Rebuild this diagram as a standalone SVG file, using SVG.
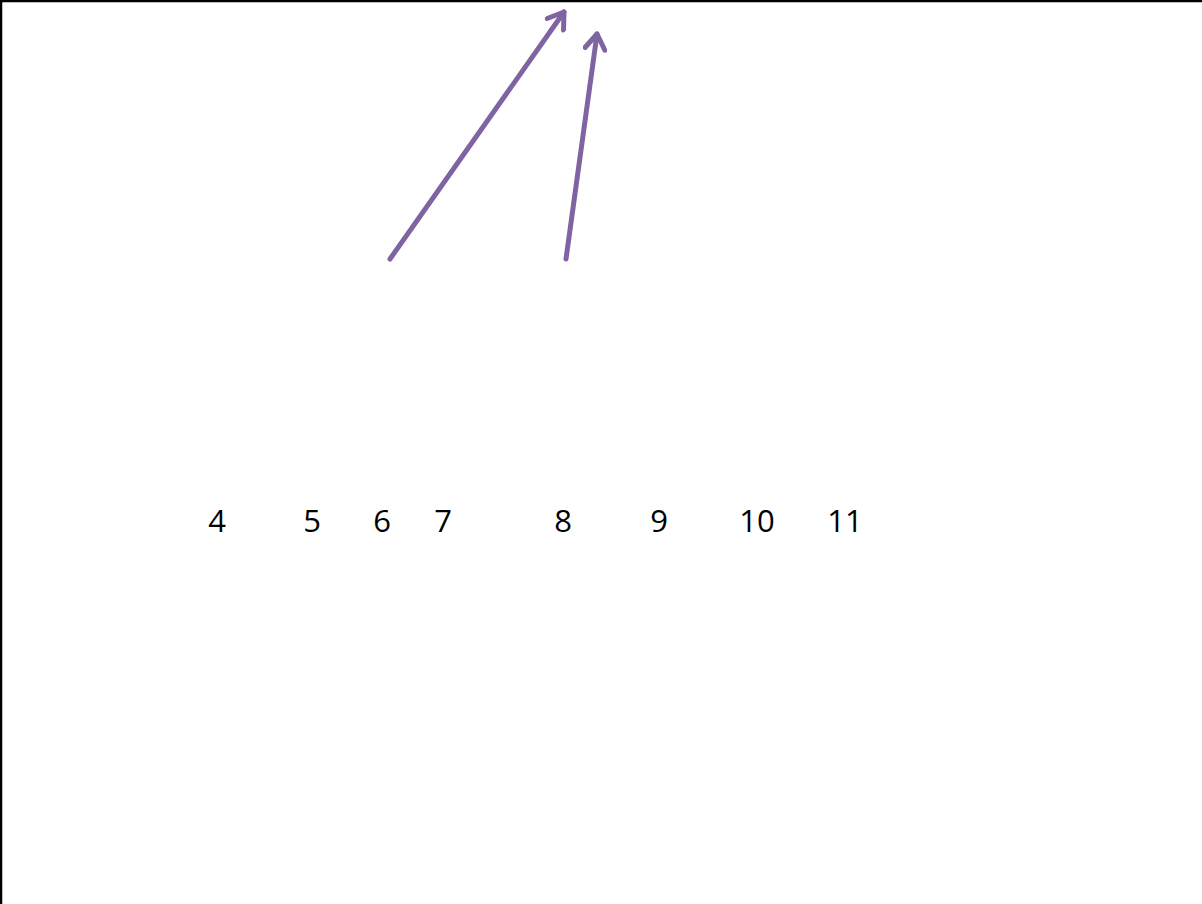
<svg xmlns="http://www.w3.org/2000/svg" width="1202" height="904" viewBox="0 0 1202 904">
<style>
.lbl{font-family:"Open Sans","Liberation Sans",sans-serif;font-size:31px;fill:#000;text-anchor:middle}
.arr{stroke:#8064A2;stroke-width:5;fill:none;stroke-linecap:round}
</style>
<defs>
<marker id="head" markerUnits="userSpaceOnUse" viewBox="-20 -12 24 24" markerWidth="24" markerHeight="24" refX="0" refY="0" orient="auto">
<path d="M -15 -10 L 0 0 L -15 10" stroke="#8064A2" stroke-width="5" fill="none" stroke-linecap="round" stroke-linejoin="round"/>
</marker>
</defs>
<rect width="1202" height="904" fill="#fff"/>
<path d="M1 904 V1 H1202" stroke="#000" stroke-width="2.5" fill="none"/>
<g id="connectors">
<line class="arr" x1="390" y1="259" x2="564" y2="12" marker-end="url(#head)"/>
<line class="arr" x1="566" y1="259" x2="597" y2="34" marker-end="url(#head)"/>
</g>
<g id="n4"><text class="lbl" x="217" y="532">4</text></g>
<g id="n5"><text class="lbl" x="312" y="532">5</text></g>
<g id="n6"><text class="lbl" x="382" y="532">6</text></g>
<g id="n7"><text class="lbl" x="443" y="532">7</text></g>
<g id="n8"><text class="lbl" x="563" y="532">8</text></g>
<g id="n9"><text class="lbl" x="659" y="532">9</text></g>
<g id="n10"><text class="lbl" x="757" y="532">10</text></g>
<g id="n11"><text class="lbl" x="845" y="532">11</text></g>
</svg>
